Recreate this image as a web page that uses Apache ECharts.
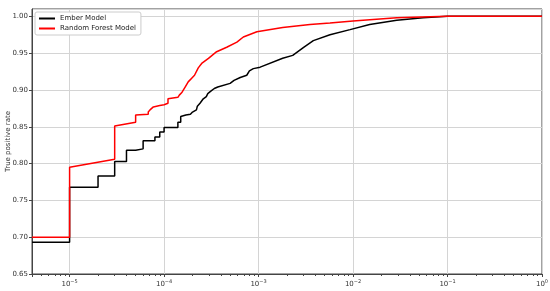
<!DOCTYPE html>
<html>
<head>
<meta charset="UTF-8">
<title>ROC</title>
<script src="https://cdn.jsdelivr.net/npm/echarts@6/dist/echarts.min.js"></script>
<style>
  html, body { margin: 0; padding: 0; background: #fff; }
  #chart { width: 550px; height: 291px; }
</style>
</head>
<body>
<div id="chart"></div>
<script>
var seriesNames = ['Ember Model', 'Random Forest Model'];

// false positive rate / true positive rate
var emberFpr = [4e-6, 1e-5, 1e-5, 2e-5, 2e-5, 3e-5, 3e-5, 4e-5, 4e-5, 5e-5, 5e-5, 6e-5, 6e-5, 8e-5, 8e-5, 9e-5, 9e-5, 1e-4, 1e-4,
    1.4e-4, 1.4e-4, 1.5e-4, 1.5e-4, 1.7e-4, 1.9e-4, 2.0e-4, 2.2e-4, 2.25e-4, 2.4e-4, 2.6e-4, 2.8e-4, 2.9e-4, 3.1e-4, 3.4e-4, 3.7e-4,
    5e-4, 5.5e-4, 6.4e-4, 7.5e-4, 8e-4, 8.8e-4, 1.04e-3, 1.8e-3, 2.3e-3, 3.0e-3, 3.8e-3, 5.7e-3, 9.3e-3, 0.015, 0.029, 0.055, 0.1, 1];
var emberTpr = [0.693, 0.693, 0.768, 0.768, 0.783, 0.783, 0.803, 0.803, 0.818, 0.818, 0.820, 0.820, 0.831, 0.831, 0.836, 0.836, 0.843, 0.843, 0.849,
    0.849, 0.856, 0.856, 0.864, 0.866, 0.867, 0.870, 0.873, 0.878, 0.882, 0.888, 0.891, 0.895, 0.898, 0.902, 0.904,
    0.909, 0.913, 0.917, 0.920, 0.926, 0.929, 0.931, 0.943, 0.947, 0.958, 0.967, 0.975, 0.982, 0.989, 0.9946, 0.998, 1.0, 1.0];

var rfFpr = [4e-6, 1e-5, 1e-5, 3e-5, 3e-5, 5e-5, 5e-5, 6.8e-5, 6.8e-5, 7.1e-5, 7.7e-5, 9e-5, 1e-4, 1.1e-4, 1.1e-4, 1.4e-4, 1.45e-4,
    1.55e-4, 1.67e-4, 1.8e-4, 1.96e-4, 2.1e-4, 2.3e-4, 2.5e-4, 2.6e-4, 2.95e-4, 3.6e-4, 4.6e-4, 5.9e-4, 6.9e-4, 9.6e-4,
    1.8e-3, 3.5e-3, 5.7e-3, 1e-2, 0.029, 0.1, 1];
var rfTpr = [0.700, 0.700, 0.795, 0.806, 0.851, 0.856, 0.866, 0.867, 0.870, 0.873, 0.877, 0.879, 0.880, 0.882, 0.888, 0.890, 0.893,
    0.897, 0.904, 0.911, 0.916, 0.920, 0.930, 0.936, 0.938, 0.943, 0.952, 0.958, 0.965, 0.972, 0.979,
    0.985, 0.989, 0.991, 0.9937, 0.998, 1.0, 1.0];

var xTickValues = [1e-5, 1e-4, 1e-3, 1e-2, 1e-1, 1];
var yTickValues = [0.65, 0.70, 0.75, 0.80, 0.85, 0.90, 0.95, 1.00];

function pairs(xs, ys) {
    var out = [];
    for (var i = 0; i < xs.length; i++) out.push([xs[i], ys[i]]);
    return out;
}

var chart = echarts.init(document.getElementById('chart'));
var font = 'DejaVu Sans';

var option = {
    animation: false,
    textStyle: { fontFamily: font },
    grid: {
        left: 32, right: 8, top: 9, bottom: 17,
        show: true, borderColor: '#444', borderWidth: 1,
        containLabel: false, outerBoundsMode: 'none'
    },
    legend: {
        orient: 'vertical', left: 35, top: 12,
        data: seriesNames,
        itemWidth: 16, itemHeight: 2, itemGap: 3,
        icon: 'rect',
        padding: [3, 5, 3, 4],
        backgroundColor: '#fff', borderColor: '#ccc', borderWidth: 1, borderRadius: 2,
        textStyle: { fontSize: 7, color: '#222', fontFamily: font }
    },
    xAxis: {
        type: 'log', min: 4e-6, max: 1, logBase: 10,
        axisLine: { lineStyle: { color: '#444' } },
        axisTick: { show: true, length: 3, lineStyle: { color: '#444' } },
        minorTick: { show: true, length: 2, splitNumber: 9, lineStyle: { color: '#444' } },
        splitLine: { show: true, lineStyle: { color: '#d4d4d4', width: 1 } },
        axisLabel: {
            margin: 5,
            formatter: function (v) {
                for (var i = 0; i < xTickValues.length; i++) {
                    if (Math.abs(Math.log10(v) - Math.log10(xTickValues[i])) < 1e-6) {
                        var e = Math.round(Math.log10(v));
                        return '{b|10}{s|' + (e < 0 ? '\u2212' + (-e) : e) + '}';
                    }
                }
                return '';
            },
            rich: {
                b: { fontSize: 7, color: '#333', fontFamily: font },
                s: { fontSize: 5, color: '#333', fontFamily: font, padding: [0, 0, 5, 0] }
            }
        }
    },
    yAxis: {
        type: 'value', min: 0.65, max: 1.01, interval: 0.05,
        name: 'True positive rate', nameLocation: 'middle', nameGap: 20, nameMoveOverlap: false,
        nameTextStyle: { fontSize: 7, color: '#333', fontFamily: font },
        axisLine: { show: true, lineStyle: { color: '#444' } },
        axisTick: { show: true, length: 3, lineStyle: { color: '#444' } },
        splitLine: { show: true, lineStyle: { color: '#d4d4d4', width: 1 } },
        axisLabel: {
            fontSize: 7, color: '#333', margin: 4, showMaxLabel: false,
            formatter: function (v) {
                for (var i = 0; i < yTickValues.length; i++) {
                    if (Math.abs(v - yTickValues[i]) < 1e-6) return v.toFixed(2);
                }
                return '';
            }
        }
    },
    series: [
        {
            name: seriesNames[0], type: 'line', data: pairs(emberFpr, emberTpr),
            showSymbol: false, symbol: 'none', color: '#000',
            lineStyle: { color: '#000', width: 1.5 }, z: 2
        },
        {
            name: seriesNames[1], type: 'line', data: pairs(rfFpr, rfTpr),
            showSymbol: false, symbol: 'none', color: '#ff0000',
            lineStyle: { color: '#ff0000', width: 1.5 }, z: 3
        }
    ]
};
chart.setOption(option);
</script>
</body>
</html>
